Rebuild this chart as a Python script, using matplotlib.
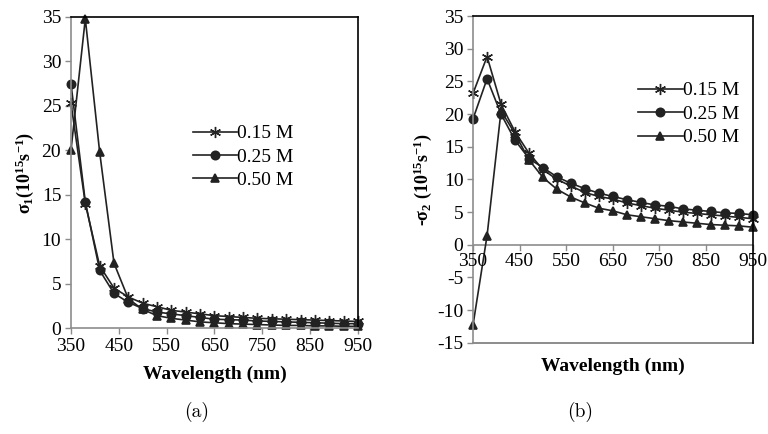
import matplotlib
matplotlib.use("Agg")
import matplotlib.pyplot as plt
import numpy as np

plt.rcParams['font.family'] = ['Liberation Serif', 'DejaVu Serif']
plt.rcParams['mathtext.fontset'] = 'custom'
plt.rcParams['mathtext.rm'] = 'Liberation Serif'
plt.rcParams['mathtext.it'] = 'Liberation Serif:italic'
plt.rcParams['mathtext.bf'] = 'Liberation Serif:bold'
plt.rcParams['axes.unicode_minus'] = False

wavelength = list(range(350, 951, 30))
labels = ['0.15 M', '0.25 M', '0.50 M']
markers = [(6, 2, 0), 'o', '^']

sigma1_015 = [25.3, 14.0, 7.0, 4.5, 3.5, 2.8, 2.4, 2.0, 1.8, 1.6, 1.4, 1.3, 1.2, 1.1, 1.05, 1.0, 0.95, 0.9, 0.85, 0.8, 0.75]
sigma1_025 = [27.5, 14.2, 6.5, 3.9, 2.9, 2.2, 1.8, 1.6, 1.4, 1.2, 1.0, 0.95, 0.9, 0.8, 0.75, 0.7, 0.65, 0.6, 0.55, 0.5, 0.5]
sigma1_050 = [20.0, 34.8, 19.8, 7.3, 3.3, 2.1, 1.4, 1.1, 0.9, 0.7, 0.6, 0.5, 0.45, 0.4, 0.35, 0.3, 0.3, 0.25, 0.25, 0.2, 0.2]

sigma2_015 = [23.2, 28.8, 21.5, 17.3, 14.0, 11.5, 10.0, 9.0, 8.0, 7.4, 7.0, 6.4, 6.0, 5.6, 5.3, 5.0, 4.8, 4.6, 4.4, 4.2, 4.0]
sigma2_025 = [19.3, 25.4, 20.0, 16.0, 13.2, 11.8, 10.4, 9.4, 8.6, 7.9, 7.4, 6.9, 6.5, 6.1, 5.9, 5.5, 5.3, 5.1, 4.9, 4.8, 4.6]
sigma2_050 = [-12.2, 1.4, 20.5, 17.0, 13.0, 10.3, 8.5, 7.3, 6.4, 5.6, 5.2, 4.6, 4.3, 4.0, 3.7, 3.5, 3.3, 3.1, 3.0, 2.9, 2.7]

xticks = [350, 450, 550, 650, 750, 850, 950]

fig = plt.figure(figsize=(7.68, 4.34), dpi=100)
ax1 = fig.add_axes([0.0924, 0.244, 0.3736, 0.717])
ax2 = fig.add_axes([0.616, 0.210, 0.364, 0.753])

line_col = '#222222'
gray = '#8c8c8c'

def style(ax, ylim, yticks):
    ax.set_xlim(350, 950)
    ax.set_ylim(*ylim)
    ax.set_xticks(xticks)
    ax.set_yticks(yticks)
    ax.tick_params(labelsize=14, direction='out', length=4, color=gray, width=1, pad=3)
    for s in ['left', 'bottom']:
        ax.spines[s].set_color(gray)
        ax.spines[s].set_linewidth(1.2)
    for s in ['top', 'right']:
        ax.spines[s].set_color('black')
        ax.spines[s].set_linewidth(1.2)

def msize(m):
    return 8 if m == (6, 2, 0) else 6

def mwidth(m):
    return 1.0 if m == (6, 2, 0) else 1.2

for ys, m, lab in zip([sigma1_015, sigma1_025, sigma1_050], markers, labels):
    ax1.plot(wavelength, ys, color=line_col, lw=1.2, marker=m, ms=msize(m),
             mew=mwidth(m), label=lab, clip_on=False)
style(ax1, (0, 35), list(range(0, 36, 5)))
ax1.set_xlabel('Wavelength (nm)', fontsize=14, fontweight='bold', labelpad=8)
ax1.set_ylabel(r'$\mathbf{\sigma_1}$$\mathbf{(10^{15}s^{-1})}$', fontsize=13, labelpad=4)
ax1.legend(loc='center', bbox_to_anchor=(0.60, 0.55), frameon=False, fontsize=14,
           handlelength=2.3, handletextpad=0.0, labelspacing=0.3)

for ys, m, lab in zip([sigma2_015, sigma2_025, sigma2_050], markers, labels):
    ax2.plot(wavelength, ys, color=line_col, lw=1.2, marker=m, ms=msize(m),
             mew=mwidth(m), label=lab, clip_on=False)
style(ax2, (-15, 35), list(range(-15, 36, 5)))
ax2.spines['bottom'].set_visible(False)
ax2.axhline(0, color=gray, lw=1.2, zorder=0)
ax2.plot([0, 1], [0, 0], transform=ax2.transAxes, color=gray, lw=1.4, clip_on=False)
ax2.tick_params(axis='x', bottom=False)
for xt in xticks:
    ax2.plot([xt, xt], [0, -0.8], color=gray, lw=1, clip_on=False)
for xt in xticks:
    ax2.text(xt, -1.2, str(xt), ha='center', va='top', fontsize=14)
ax2.set_xticklabels([])
ax2.set_xlabel('Wavelength (nm)', fontsize=14, fontweight='bold', labelpad=4)
ax2.set_ylabel(r'-$\mathbf{\sigma_2}$ $\mathbf{(10^{15}s^{-1})}$', fontsize=13,
               fontweight='bold', labelpad=2)
ax2.legend(loc='center', bbox_to_anchor=(0.77, 0.70), frameon=False, fontsize=14,
           handlelength=2.3, handletextpad=0.0, labelspacing=0.3)

fig.text(197 / 768, 1 - 412 / 434, '(a)', fontsize=14, family=['cmr10', 'DejaVu Serif'], ha='center', va='center')
fig.text(580 / 768, 1 - 412 / 434, '(b)', fontsize=14, family=['cmr10', 'DejaVu Serif'], ha='center', va='center')

fig.savefig('out.png', dpi=100)
